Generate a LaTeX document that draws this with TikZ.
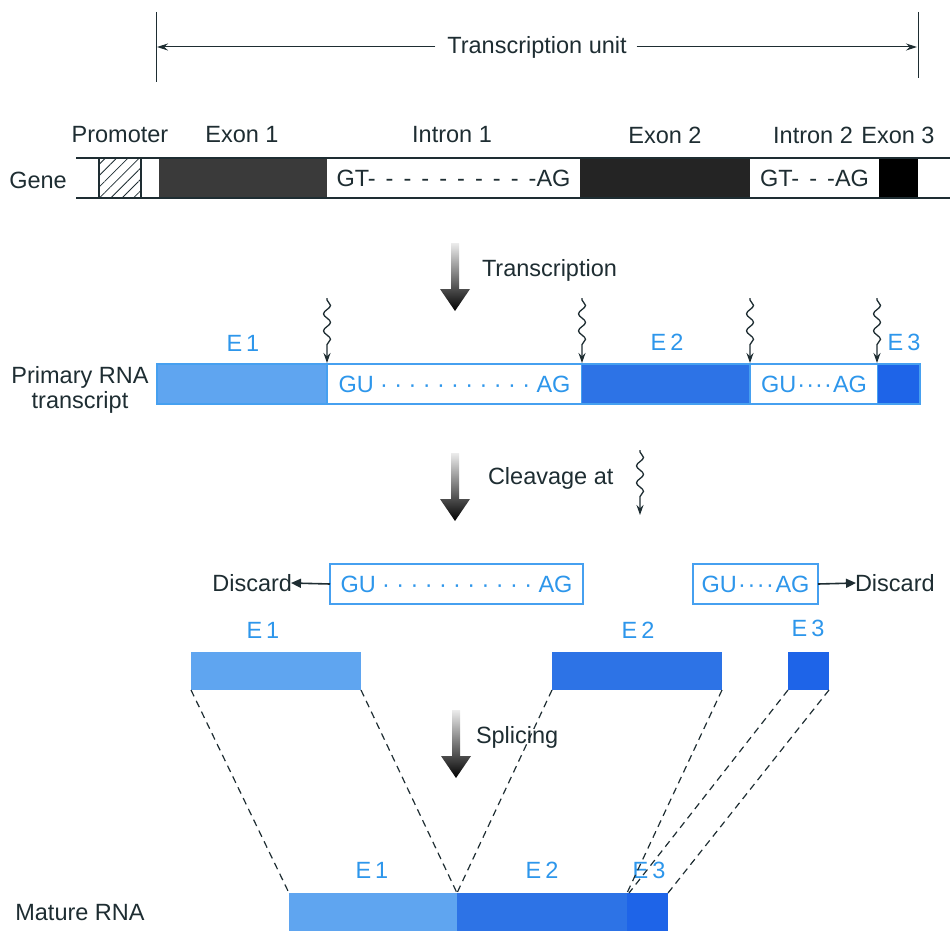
\documentclass[tikz,border=0pt]{standalone}
\usepackage{fontspec}
\setmainfont{Liberation Sans}
\usetikzlibrary{arrows.meta,decorations.pathmorphing,patterns.meta}
\definecolor{ink}{RGB}{30,45,50}
\definecolor{txtblue}{RGB}{45,150,235}
\definecolor{lblue}{RGB}{95,165,240}
\definecolor{mblue}{RGB}{45,115,230}
\definecolor{dblue}{RGB}{30,100,232}
\definecolor{boxblue}{RGB}{70,160,240}
\definecolor{exonA}{RGB}{58,58,58}
\definecolor{exonB}{RGB}{36,36,36}
\begin{document}
\begin{tikzpicture}[x=1pt,y=-1pt,
  every node/.style={inner sep=0pt,outer sep=0pt},
  lab/.style={text=ink,font=\fontsize{23.5}{26}\selectfont},
  blab/.style={text=txtblue,font=\fontsize{23.5}{26}\selectfont},
  bar/.style={rectangle,anchor=north west,minimum height=38pt},
  gbar/.style={rectangle,anchor=north west,minimum height=40pt},
  rbar/.style={rectangle,anchor=north west,minimum height=40pt},
  ibox/.style={rectangle,anchor=north west,minimum height=40pt,draw=boxblue,line width=1.6pt,fill=white,text=txtblue,font=\fontsize{23.5}{26}\selectfont},
  gline/.style={ink,line width=1.5pt},
  wavy/.style={ink,line width=1.3pt,decorate,decoration={snake,amplitude=3.5pt,segment length=17pt,pre length=2pt,post length=10pt},-{Stealth[length=10pt,width=7pt]}},
  splice/.style={ink,line width=1.2pt,dash pattern=on 7pt off 5pt},
  thin arrow/.style={ink,line width=1.6pt,-{Triangle[length=10pt,width=9pt]}},
  blockarrow/.pic={\shade[top color=gray!15,middle color=black!70,bottom color=black] (-4,0) -- (-4,46) -- (-15,46) -- (0,68) -- (15,46) -- (4,46) -- (4,0) -- cycle;}
]
\useasboundingbox (0,0) rectangle (950,931);

% ---------- Transcription unit ----------
\coordinate (tuLt) at (156,12);
\coordinate (tuLb) at (156,82);
\coordinate (tuRt) at (918,12);
\coordinate (tuRb) at (918,78);
\draw[ink,line width=1pt] (tuLt) -- (tuLb);
\draw[ink,line width=1pt] (tuRt) -- (tuRb);
\node[lab] (tu) at (537,47) {Transcription unit};
\coordinate (tuL) at (157,47);
\coordinate (tuR) at (917,47);
\draw[ink,line width=1pt,-{Stealth[length=11pt,width=7pt]}] ([xshift=-12pt]tu.west) -- (tuL);
\draw[ink,line width=1pt,-{Stealth[length=11pt,width=7pt]}] ([xshift=10pt]tu.east) -- (tuR);

% ---------- Gene ----------
\node[lab] (gene) at (38,180) {Gene};
\node[lab] (lprom) at (120,135) {Promoter};
\node[lab] (lex1) at (242,135) {Exon 1};
\node[lab] (lin1) at (452,135) {Intron 1};
\node[lab] (lex2) at (665,135) {Exon 2};
\node[lab] (lin2) at (813,135) {Intron 2};
\node[lab] (lex3) at (898,135) {Exon 3};

\node[gbar,minimum width=42pt,draw=ink,line width=1.2pt,
      pattern={Lines[angle=45,distance=8pt,line width=0.8pt]},pattern color=ink] (prom) at (99,158) {};
\node[gbar,minimum width=168pt,fill=exonA] (gex1) at (159,158) {};
\node[gbar,minimum width=253pt,fill=white,text=ink,font=\fontsize{23.5}{26}\selectfont] (gin1) at (327,158)
  {\makebox[234pt]{GT-\hfill-\hfill-\hfill-\hfill-\hfill-\hfill-\hfill-\hfill-\hfill-AG}};
\node[gbar,minimum width=170pt,fill=exonB] (gex2) at (580,158) {};
\node[gbar,minimum width=129pt,fill=white,text=ink,font=\fontsize{23.5}{26}\selectfont] (gin2) at (750,158)
  {\makebox[109pt]{GT-\hfill-\hfill-AG}};
\node[gbar,minimum width=39pt,fill=black] (gex3) at (879,158) {};
\coordinate (gl1) at (76,158);
\coordinate (gr1) at (950,158);
\coordinate (gl2) at (76,198);
\coordinate (gr2) at (950,198);
\draw[gline] (gl1) -- (gr1);
\draw[gline] (gl2) -- (gr2);

% ---------- Transcription ----------
\pic at (455,243) {blockarrow};
\node[lab,anchor=west] (ltrans) at (482,270) {Transcription};

% ---------- Primary RNA transcript ----------
\node[lab,align=center,font=\fontsize{23.5}{25}\selectfont] (prim) at (80,390) {Primary RNA\\transcript};
\node[rbar,minimum width=170pt,fill=lblue] (rex1) at (157,364) {};
\node[ibox,minimum width=255pt] (rin1) at (327,364)
  {\makebox[232pt]{GU\hfill·\hfill·\hfill·\hfill·\hfill·\hfill·\hfill·\hfill·\hfill·\hfill·\hfill·\hfill AG}};
\node[rbar,minimum width=168pt,fill=mblue] (rex2) at (582,364) {};
\node[ibox,minimum width=128pt] (rin2) at (750,364)
  {\makebox[106pt]{GU\hfill·\hfill·\hfill·\hfill·\hfill AG}};
\node[rbar,minimum width=42pt,fill=dblue] (rex3) at (878,364) {};
\draw[boxblue,line width=1.6pt] (rex1.north west) rectangle (rex3.south east);

\node[blab] (re1) at (243,343) {E\,1};
\node[blab] (re2) at (667,342) {E\,2};
\node[blab] (re3) at (904,342) {E\,3};

\coordinate (w1a) at (327,298); \coordinate (w1b) at (327,363);
\coordinate (w2a) at (582,298); \coordinate (w2b) at (582,363);
\coordinate (w3a) at (750,298); \coordinate (w3b) at (750,363);
\coordinate (w4a) at (877,298); \coordinate (w4b) at (877,363);
\draw[wavy] (w1a) -- (w1b);
\draw[wavy] (w2a) -- (w2b);
\draw[wavy] (w3a) -- (w3b);
\draw[wavy] (w4a) -- (w4b);

% ---------- Cleavage ----------
\pic at (455,453) {blockarrow};
\node[lab,anchor=west] (lcleave) at (488,478) {Cleavage at};
\coordinate (wca) at (640,450); \coordinate (wcb) at (640,515);
\draw[wavy] (wca) -- (wcb);

% ---------- Discarded introns ----------
\node[ibox,minimum width=253pt] (din1) at (330,564)
  {\makebox[232pt]{GU\hfill·\hfill·\hfill·\hfill·\hfill·\hfill·\hfill·\hfill·\hfill·\hfill·\hfill·\hfill AG}};
\node[ibox,minimum width=125pt] (din2) at (693,564)
  {\makebox[108pt]{GU\hfill·\hfill·\hfill·\hfill·\hfill AG}};
\node[lab,anchor=east] (disc1) at (292,583) {Discard};
\node[lab,anchor=west] (disc2) at (855,583) {Discard};
\draw[thin arrow] (din1.west) -- ([xshift=-1pt]disc1.east);
\draw[thin arrow] (din2.east) -- ([xshift=1pt]disc2.west);

% ---------- Cleaved exons ----------
\node[blab] (ce1) at (263,630) {E\,1};
\node[blab] (ce2) at (638,630) {E\,2};
\node[blab] (ce3) at (808,628) {E\,3};
\node[bar,minimum width=170pt,fill=lblue] (cex1) at (191,652) {};
\node[bar,minimum width=170pt,fill=mblue] (cex2) at (552,652) {};
\node[bar,minimum width=41pt,fill=dblue] (cex3) at (788,652) {};

% ---------- Splicing ----------
\pic at (456,710) {blockarrow};
\node[lab,anchor=west] (lsplice) at (476,737) {Splicing};

% ---------- Mature RNA ----------
\node[lab] (mat) at (80,913) {Mature RNA};
\node[bar,minimum width=168pt,fill=lblue] (mex1) at (289,893) {};
\node[bar,minimum width=170pt,fill=mblue] (mex2) at (457,893) {};
\node[bar,minimum width=41pt,fill=dblue] (mex3) at (627,893) {};
\node[blab] (me1) at (372,870) {E\,1};
\node[blab] (me2) at (542,870) {E\,2};
\node[blab] (me3) at (649,870) {E\,3};

\draw[splice] (cex1.south west) -- (mex1.north west);
\draw[splice] (cex1.south east) -- (mex1.north east);
\draw[splice] (cex2.south west) -- (mex2.north west);
\draw[splice] (cex2.south east) -- (mex3.north west);
\draw[splice] (cex3.south west) -- ([xshift=2pt]mex3.north west);
\draw[splice] (cex3.south east) -- (mex3.north east);
\end{tikzpicture}
\end{document}
